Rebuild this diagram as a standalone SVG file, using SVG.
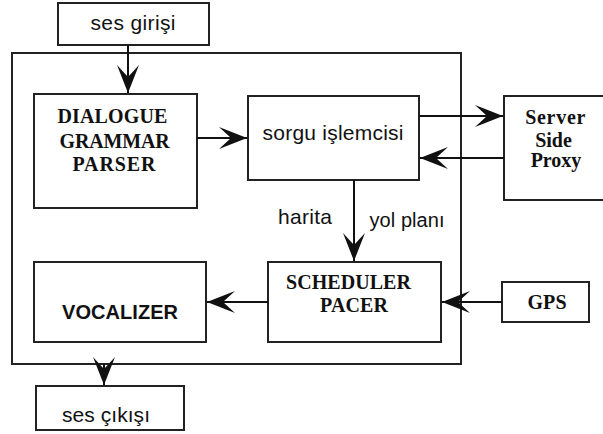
<svg xmlns="http://www.w3.org/2000/svg" width="603" height="434" viewBox="0 0 603 434">
<style>
.box{fill:#fff;stroke:#222;stroke-width:2}
.frame{fill:none;stroke:#222;stroke-width:2}
.sans{font-family:"Liberation Sans",Arial,sans-serif;fill:#111}
.serif{font-family:"Liberation Serif","Times New Roman",serif;font-weight:bold;fill:#111;font-size:20px}
.conn{stroke:#111;stroke-width:2;fill:none}
</style>
<defs>
<marker id="ah" markerUnits="userSpaceOnUse" markerWidth="32" markerHeight="26" viewBox="-30 -12 32 24" refX="0" refY="0" orient="auto">
<path d="M0,0 L-28,-11 L-16,0 L-28,11 Z" fill="#111"/>
</marker>
</defs>
<rect width="603" height="434" fill="#fff"/>
<rect id="container" class="frame" x="12" y="53" width="449" height="311"/>
<g id="ses-girisi">
<rect class="box" x="58" y="3" width="151" height="42"/>
<text class="sans" x="133" y="30" font-size="21" text-anchor="middle" textLength="85">ses girişi</text>
</g>
<g id="dialogue">
<rect class="box" x="34" y="94" width="163" height="114"/>
<text class="serif" text-anchor="middle">
<tspan x="115" y="123" textLength="110">DIALOGUE</tspan>
<tspan x="117" y="148" textLength="110">GRAMMAR</tspan>
<tspan x="114" y="171" textLength="83">PARSER</tspan>
</text>
</g>
<g id="sorgu">
<rect class="box" x="248" y="96" width="171" height="84"/>
<text class="sans" x="333" y="140" font-size="21" text-anchor="middle" textLength="141">sorgu işlemcisi</text>
</g>
<g id="server">
<rect class="box" x="504" y="96" width="104" height="104"/>
<text class="serif" text-anchor="middle">
<tspan x="558" y="124" textLength="60">Server</tspan>
<tspan x="556" y="147">Side</tspan>
<tspan x="556" y="167">Proxy</tspan>
</text>
</g>
<g id="scheduler">
<rect class="box" x="268" y="262" width="173" height="80"/>
<text class="serif" text-anchor="middle">
<tspan x="351" y="289" textLength="125">SCHEDULER</tspan>
<tspan x="354" y="312" textLength="68">PACER</tspan>
</text>
</g>
<g id="vocalizer">
<rect class="box" x="34" y="262" width="172" height="80"/>
<text class="sans" x="120" y="319" font-size="20" font-weight="bold" text-anchor="middle" textLength="116">VOCALIZER</text>
</g>
<g id="gps">
<rect class="box" x="502" y="282" width="87" height="40"/>
<text class="serif" x="547" y="309" text-anchor="middle" textLength="39">GPS</text>
</g>
<g id="ses-cikisi">
<rect class="box" x="36" y="386" width="148" height="44"/>
<text class="sans" x="106" y="422" font-size="21" text-anchor="middle" textLength="88">ses çıkışı</text>
</g>
<g id="labels">
<text class="sans" x="305" y="224" font-size="21" text-anchor="middle" textLength="54">harita</text>
<text class="sans" x="407" y="227" font-size="20" text-anchor="middle" textLength="75">yol planı</text>
</g>
<g id="connectors">
<line class="conn" x1="128" y1="45" x2="128" y2="93" marker-end="url(#ah)"/>
<line class="conn" x1="197" y1="138" x2="247" y2="138" marker-end="url(#ah)"/>
<line class="conn" x1="419" y1="116" x2="503" y2="116" marker-end="url(#ah)"/>
<line class="conn" x1="504" y1="158" x2="420" y2="158" marker-end="url(#ah)"/>
<line class="conn" x1="354" y1="180" x2="354" y2="261" marker-end="url(#ah)"/>
<line class="conn" x1="268" y1="302" x2="207" y2="302" marker-end="url(#ah)"/>
<line class="conn" x1="502" y1="302" x2="442" y2="302" marker-end="url(#ah)"/>
<line class="conn" x1="104" y1="364" x2="104" y2="385" marker-end="url(#ah)"/>
</g>
</svg>
